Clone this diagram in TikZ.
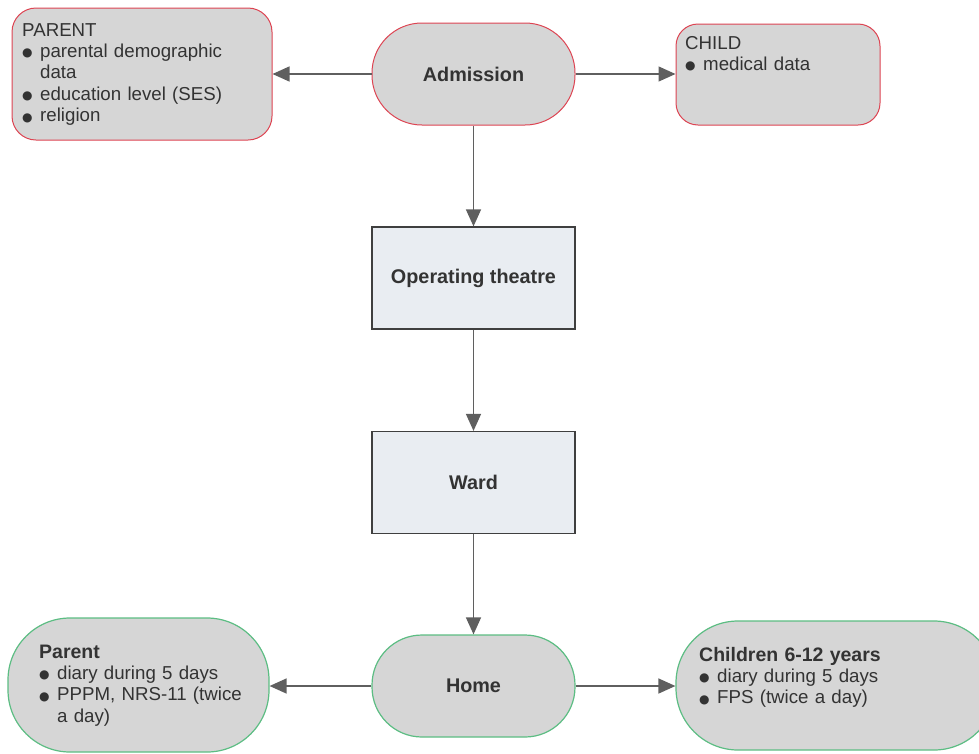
\documentclass[tikz,border=0pt]{standalone}
\usepackage{fontspec}
\setmainfont{Liberation Sans}
\newfontfamily\dvfont{DejaVu Sans}
\usetikzlibrary{arrows.meta}
\definecolor{boxgray}{HTML}{D6D6D6}
\definecolor{redline}{HTML}{DD4452}
\definecolor{greenline}{HTML}{5CBD83}
\definecolor{rectfill}{HTML}{E9EDF2}
\definecolor{rectline}{HTML}{3F3F3F}
\definecolor{txt}{HTML}{333333}
\definecolor{arrowc}{HTML}{5F5F5F}
\newcommand\bul{\makebox[18pt][l]{\raisebox{0.05ex}{\dvfont\fontsize{12}{10}\selectfont ●}}}
\newcommand\ind{\hspace*{18pt}}
\begin{document}
\begin{tikzpicture}[x=1pt,y=-1pt,
  redbox/.style={draw=redline,fill=boxgray,line width=1pt,inner sep=0pt},
  greenbox/.style={draw=greenline,fill=boxgray,line width=1.2pt,inner sep=0pt},
  stepbox/.style={draw=rectline,fill=rectfill,line width=1.2pt,inner sep=0pt,
    minimum width=203pt,minimum height=102pt,text=txt,
    font=\bfseries\fontsize{19.8}{22}\selectfont},
  pill/.style={inner sep=0pt,minimum width=203pt,minimum height=102pt,rounded corners=50pt,
    text=txt,font=\bfseries\fontsize{19.8}{22}\selectfont},
  listtext/.style={anchor=base west,inner sep=0pt,text width=250pt,align=left,text=txt,
    font=\fontsize{18.7}{21.4}\selectfont},
  conn/.style={draw=arrowc,line width=1.4pt,-{Triangle[length=17pt,width=15pt]}}
]
\useasboundingbox (0,0) rectangle (979,753);

% top row
\node[redbox,rounded corners=24pt,minimum width=260pt,minimum height=132pt] (ptop) at (142,74) {};
\node[listtext] (ptoptext) at (22,36) {PARENT\\
\bul parental demographic\\
\ind data\\
\bul education level (SES)\\
\bul religion};

\node[redbox,pill,draw=redline,fill=boxgray] (adm) at (473.5,74) {Admission};

\node[redbox,rounded corners=22pt,minimum width=204pt,minimum height=101pt] (child) at (778,74.5) {};
\node[listtext] (childtext) at (685,49) {CHILD\\
\bul medical data};

% middle
\node[stepbox] (op) at (473.5,278) {Operating theatre};
\node[stepbox] (ward) at (473.5,482.5) {Ward};

% bottom row
\node[greenbox,pill,draw=greenline,fill=boxgray,line width=1.2pt] (home) at (473.5,686) {Home};

\node[greenbox,rounded corners=62pt,minimum width=261pt,minimum height=134pt] (pbot) at (138.5,685) {};
\node[listtext] (pbottext) at (39,658) {\textbf{\fontsize{19.5}{21.4}\selectfont Parent}\\
\bul diary during 5 days\\
\bul PPPM, NRS-11 (twice\\
\ind a day)};

\node[greenbox,rounded corners=62pt,minimum width=320pt,minimum height=129pt] (kids) at (836,685.5) {};
\node[listtext] (kidstext) at (699,661) {\textbf{\fontsize{19.5}{21.4}\selectfont Children 6-12 years}\\
\bul diary during 5 days\\
\bul FPS (twice a day)};

% connectors
\draw[conn] (adm.west) -- (adm.west -| ptop.east);
\draw[conn] (adm.east) -- (adm.east -| child.west);
\draw[conn] (adm.south) -- (op.north);
\draw[conn] (op.south) -- (ward.north);
\draw[conn] (ward.south) -- (home.north);
\draw[conn] (home.west) -- (home.west -| pbot.east);
\draw[conn] (home.east) -- (home.east -| kids.west);
\end{tikzpicture}
\end{document}
